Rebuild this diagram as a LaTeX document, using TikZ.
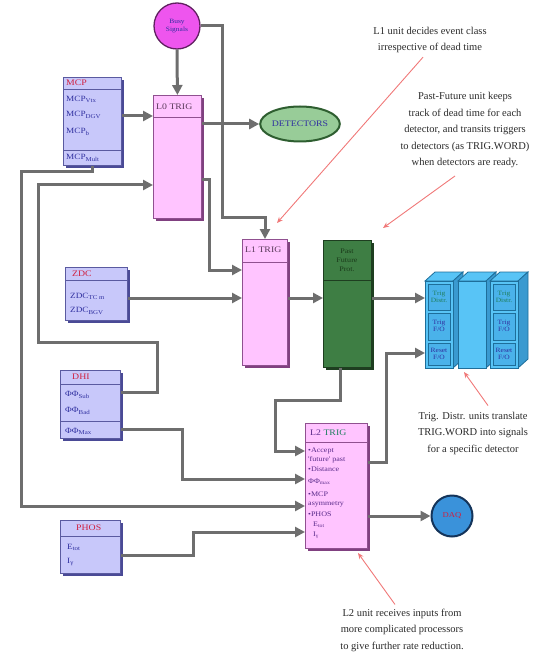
\documentclass[tikz,border=0pt]{standalone}
\usepackage{fontspec}
\setmainfont{Liberation Serif}
\newfontfamily\bx[FakeStretch=1.15]{Liberation Serif}
\usetikzlibrary{arrows.meta,shadows,shapes.geometric,calc}
\definecolor{wirec}{HTML}{6E6E6E}
\definecolor{bfill}{HTML}{C8C8FA}
\definecolor{bbord}{HTML}{5A5AA0}
\definecolor{bshad}{HTML}{4A4A96}
\definecolor{pfill}{HTML}{FFC4FF}
\definecolor{pbord}{HTML}{905090}
\definecolor{pshad}{HTML}{804080}
\definecolor{gfill}{HTML}{3E7E44}
\definecolor{gbord}{HTML}{1E3E20}
\definecolor{gtext}{HTML}{1A3A1A}
\definecolor{tred}{HTML}{D02040}
\definecolor{tnavy}{HTML}{3030A0}
\definecolor{tpurp}{HTML}{5A2A8A}
\definecolor{tgrey}{HTML}{5A3A5A}
\definecolor{tgreen}{HTML}{208060}
\definecolor{notec}{HTML}{F07878}
\definecolor{notet}{HTML}{2A2A2A}
\definecolor{cfill}{HTML}{58C4F6}
\definecolor{ccell}{HTML}{4AB2EA}
\definecolor{cbord}{HTML}{1E6E9A}
\definecolor{cdark}{HTML}{3A9AD0}
\definecolor{busyf}{HTML}{EE55EE}
\definecolor{busyd}{HTML}{602060}
\definecolor{detf}{HTML}{98CC98}
\definecolor{detd}{HTML}{2E5E30}
\definecolor{daqf}{HTML}{3A92DA}
\definecolor{daqd}{HTML}{14345A}
\tikzset{
  bluebox/.style={draw=bbord, fill=bfill, line width=0.8pt, inner sep=0pt, anchor=north west,
    drop shadow={shadow xshift=3pt, shadow yshift=-3pt, fill=bshad, opacity=1}},
  pinkbox/.style={draw=pbord, fill=pfill, line width=0.8pt, inner sep=0pt, anchor=north west,
    drop shadow={shadow xshift=3pt, shadow yshift=-3pt, fill=pshad, opacity=1}},
  greenbox/.style={draw=gbord, fill=gfill, line width=0.8pt, inner sep=0pt, anchor=north west,
    drop shadow={shadow xshift=3pt, shadow yshift=-3pt, fill=gbord, opacity=1}},
  boxrow/.style={font=\bx\fontsize{8}{9}\selectfont, text=tnavy, anchor=west, inner sep=0pt},
  lrow/.style={font=\bx\fontsize{7}{8}\selectfont, text=tpurp, anchor=west, inner sep=0pt},
  ttl/.style={font=\bx\fontsize{8.5}{9}\selectfont, anchor=west, inner sep=0pt},
  sepline/.style={line width=0.8pt},
  wire/.style={draw=wirec, line width=3pt, line join=miter},
  arr/.style={wire, -{Triangle[length=10pt,width=10pt]}},
  note/.style={draw=notec, line width=0.9pt, -{Stealth[length=6pt,width=5pt]}},
  ntext/.style={font=\fontsize{10.5}{16.5}\selectfont, align=center, text=notet, inner sep=0pt},
  cell/.style={font=\bx\fontsize{6.5}{7}\selectfont, align=center, inner sep=0pt, text=tnavy},
}
\begin{document}
\begin{tikzpicture}[x=1pt,y=-1pt]
\useasboundingbox (0,0) rectangle (544,660);

% ---- Busy signals
\node[circle, draw=busyd, fill=busyf, line width=1.3pt, minimum size=46pt, inner sep=0pt,
  align=center, font=\bx\fontsize{6.5}{7.5}\selectfont, text=tnavy] (busy) at (177,26) {Busy\\Signals};

% ---- MCP
\node[bluebox, minimum width=58pt, minimum height=88pt] (mcp) at (63,77) {};
\draw[bbord, sepline] (mcp.west |- 0,89) -- (mcp.east |- 0,89);
\draw[bbord, sepline] (mcp.west |- 0,150) -- (mcp.east |- 0,150);
\node[ttl, text=tred] (mcpt) at (66,83) {MCP};
\node[boxrow] (mcp1) at (66,99) {MCP\textsubscript{Vtx}};
\node[boxrow] (mcp2) at (66,115) {MCP\textsubscript{DGV}};
\node[boxrow] (mcp3) at (66,132) {MCP\textsubscript{b}};
\node[boxrow] (mcp4) at (66,158) {MCP\textsubscript{Mult}};

% ---- L0 TRIG
\node[pinkbox, minimum width=48pt, minimum height=123pt] (l0) at (153,95) {};
\draw[pbord, sepline] (l0.west |- 0,117) -- (l0.east |- 0,117);
\node[ttl, text=tgrey] (l0t) at (156,107) {L0 TRIG};

% ---- DETECTORS
\node[ellipse, draw=detd, fill=detf, line width=2pt, minimum width=74pt, minimum height=35pt,
  inner sep=0pt, font=\bx\fontsize{8.5}{9}\selectfont, text=tnavy] (det) at (300,124) {DETECTORS};

% ---- L1 TRIG
\node[pinkbox, minimum width=45pt, minimum height=126pt] (l1) at (242,239) {};
\draw[pbord, sepline] (l1.west |- 0,262) -- (l1.east |- 0,262);
\node[ttl, text=tgrey] (l1t) at (245,250) {L1 TRIG};

% ---- ZDC
\node[bluebox, minimum width=62pt, minimum height=53pt] (zdc) at (65,267) {};
\draw[bbord, sepline] (zdc.west |- 0,280) -- (zdc.east |- 0,280);
\node[ttl, text=tred] (zdct) at (72,274) {ZDC};
\node[boxrow] (zdc1) at (70,296) {ZDC\textsubscript{TC m}};
\node[boxrow] (zdc2) at (70,311) {ZDC\textsubscript{BGV}};

% ---- Past Future Prot.
\node[greenbox, minimum width=48pt, minimum height=127pt] (pf) at (323,240) {};
\draw[gbord, sepline] (pf.west |- 0,280) -- (pf.east |- 0,280);
\node[cell, text=gtext, font=\bx\fontsize{7}{9}\selectfont] (pft) at (347,260) {Past\\Future\\Prot.};

% ---- Trig Distr
\foreach \xa/\xb in {425/453, 458/486, 490/518} {
  \filldraw[fill=cfill, draw=cbord, line width=0.8pt] (\xa,281) -- (\xb,281) -- (\xb+10,272) -- (\xa+10,272) -- cycle;
  \filldraw[fill=cdark, draw=cbord, line width=0.8pt] (\xb,281) -- (\xb+10,272) -- (\xb+10,359) -- (\xb,368) -- cycle;
  \filldraw[fill=cfill, draw=cbord, line width=0.8pt] (\xa,281) rectangle (\xb,368);
}
\foreach \xa/\xb in {428/450, 493/515} {
  \filldraw[fill=ccell, draw=cbord, line width=0.7pt] (\xa,284) rectangle (\xb,310);
  \filldraw[fill=ccell, draw=cbord, line width=0.7pt] (\xa,313) rectangle (\xb,340);
  \filldraw[fill=ccell, draw=cbord, line width=0.7pt] (\xa,343) rectangle (\xb,365);
}
\node[cell, text=tgreen] (tdl1) at (439,297) {Trig\\Distr.};
\node[cell] (tdl2) at (439,326) {Trig\\F/O};
\node[cell] (tdl3) at (439,354) {Reset\\F/O};
\node[cell, text=tgreen] (tdr1) at (504,297) {Trig\\Distr.};
\node[cell] (tdr2) at (504,326) {Trig\\F/O};
\node[cell] (tdr3) at (504,354) {Reset\\F/O};
\node[inner sep=0pt, minimum width=93pt, minimum height=87pt, anchor=north west] (td) at (425,281) {};

% ---- DHI
\node[bluebox, minimum width=60pt, minimum height=68pt] (dhi) at (60,370) {};
\draw[bbord, sepline] (dhi.west |- 0,384) -- (dhi.east |- 0,384);
\draw[bbord, sepline] (dhi.west |- 0,421) -- (dhi.east |- 0,421);
\node[ttl, text=tred] (dhit) at (72,377) {DHI};
\node[boxrow] (dhi1) at (65,395) {ΦΦ\textsubscript{Sub}};
\node[boxrow] (dhi2) at (65,411) {ΦΦ\textsubscript{Bad}};
\node[boxrow] (dhi3) at (65,431) {ΦΦ\textsubscript{Max}};

% ---- PHOS
\node[bluebox, minimum width=60pt, minimum height=53pt] (phos) at (60,520) {};
\draw[bbord, sepline] (phos.west |- 0,536) -- (phos.east |- 0,536);
\node[ttl, text=tred] (phost) at (76,528) {PHOS};
\node[boxrow] (phos1) at (67,547) {E\textsubscript{tot}};
\node[boxrow] (phos2) at (67,562) {I\textsubscript{γ}};

% ---- L2 TRIG
\node[pinkbox, minimum width=62pt, minimum height=125pt] (l2) at (305,423) {};
\draw[pbord, sepline] (l2.west |- 0,442) -- (l2.east |- 0,442);
\node[ttl] (l2t) at (310,433) {\textcolor{tpurp}{L2} \textcolor{tgreen}{TRIG}};
\node[lrow] (l2r1) at (308,451) {•Accept};
\node[lrow] (l2r2) at (308,460) {'future' past};
\node[lrow] (l2r3) at (308,469) {•Distance};
\node[lrow] (l2r4) at (308,482) {ΦΦ\textsubscript{max}};
\node[lrow] (l2r5) at (308,494) {•MCP};
\node[lrow] (l2r6) at (308,504) {asymmetry};
\node[lrow] (l2r7) at (308,514) {•PHOS};
\node[lrow] (l2r8) at (313,525) {E\textsubscript{tot}};
\node[lrow] (l2r9) at (313,535) {I\textsubscript{γ}};

% ---- DAQ
\node[circle, draw=daqd, fill=daqf, line width=2pt, minimum size=41pt, inner sep=0pt,
  font=\bx\fontsize{7.5}{8}\selectfont, text=tred] (daq) at (452,516) {DAQ};

% ---- connectors
\draw[arr] (busy.south) -- (l0.north);
\draw[arr] (busy.east) -- (222,26) -- (222,217) -- (265,217) -- (l1.north -| 265,0);
\draw[arr] (mcp.east |- 0,116) -- (l0.west |- 0,116);
\draw[arr] (l0.east |- det.west) -- (det.west);
\draw[arr] (l0.east |- 0,180) -- (209,180) -- (209,270) -- (l1.west |- 0,270);
\draw[arr] (zdc.east |- 0,298) -- (l1.west |- 0,298);
\draw[arr] (l1.east |- 0,298) -- (pf.west |- 0,298);
\draw[arr] (pf.east |- 0,298) -- (td.west |- 0,298);
\draw[arr] (mcp.south -| 92,0) -- (92,172) -- (21,172) -- (21,506) -- (l2.west |- 0,506);
\draw[arr] (dhi.east |- 0,392) -- (157,392) -- (157,342) -- (38,342) -- (38,185) -- (l0.west |- 0,185);
\draw[arr] (dhi.east |- 0,429) -- (182,429) -- (182,479) -- (l2.west |- 0,479);
\draw[arr] (phos.east |- 0,555) -- (193,555) -- (193,532) -- (l2.west |- 0,532);
\draw[arr] (pf.south -| 340,0) -- (340,400) -- (275,400) -- (275,451) -- (l2.west |- 0,451);
\draw[arr] (l2.east |- 0,462) -- (386,462) -- (386,353) -- (td.west |- 0,353);
\draw[arr] (l2.east |- daq.west) -- (daq.west);

% ---- notes
\node[ntext] (n1) at (430,40) {L1 unit decides event class\\irrespective of dead time};
\node[ntext] (n2) at (465,130) {Past-Future unit keeps\\track of dead time for each\\detector, and transits triggers\\to detectors (as TRIG.WORD)\\when detectors are ready.};
\node[ntext] (n3) at (473,433) {Trig. Distr. units translate\\TRIG.WORD into signals\\for a specific detector};
\node[ntext] (n4) at (402,630) {L2 unit receives inputs from\\more complicated processors\\to give further rate reduction.};
\coordinate (e1) at (277,223);
\coordinate (e2) at (383,228);
\coordinate (e3) at (464,372);
\coordinate (e4) at (358,553);
\draw[note] ($(n1.south)+(-7,4)$) -- (e1);
\draw[note] ($(n2.south)+(-10,8)$) -- (e2);
\draw[note] ($(n3.north)+(15,-6)$) -- (e3);
\draw[note] ($(n4.north)+(-7,-4)$) -- (e4);
\end{tikzpicture}
\end{document}
